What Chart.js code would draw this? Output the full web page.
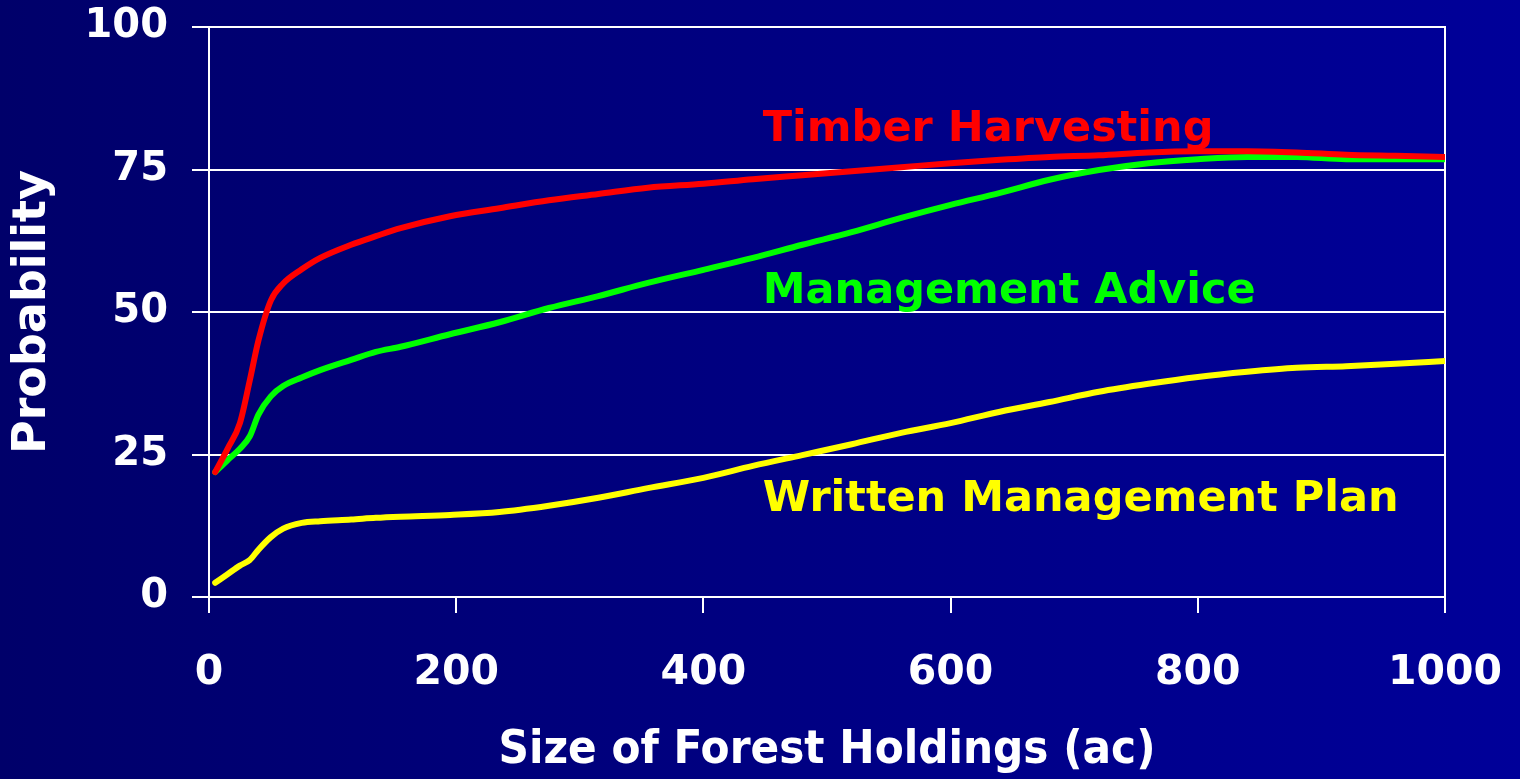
<!DOCTYPE html>
<html>
<head>
<meta charset="utf-8">
<script src="https://cdn.jsdelivr.net/npm/chart.js@4/dist/chart.umd.min.js"></script>
<style>
  html, body { margin: 0; padding: 0; background: #000080; }
  #wrap { width: 1520px; height: 779px; position: relative; }
</style>
</head>
<body>
<div id="wrap"><canvas id="chart"></canvas></div>
<script>
// sizes of forest holdings (ac) where the curves were read
var holdings = [5, 15, 25, 33, 40, 50, 60, 75, 90, 115, 135, 155, 195, 235, 275, 315, 355,
  400, 440, 480, 520, 560, 600, 640, 680, 720, 760, 800, 840, 880, 920, 960, 1000];

var timberHarvesting = [21.9, 26, 30.5, 38, 45, 52, 55, 57.5, 59.5, 61.8, 63.3, 64.7, 66.8, 68.2, 69.6, 70.7, 71.8,
  72.5, 73.3, 74, 74.7, 75.4, 76.1, 76.7, 77.2, 77.5, 78, 78.2, 78.2, 78, 77.6, 77.4, 77.2];

var managementAdvice = [21.9, 24, 26, 28.2, 32, 35.2, 37, 38.5, 39.8, 41.6, 43, 43.9, 46.1, 48.2, 50.7, 52.8, 55.1,
  57.4, 59.5, 61.8, 64, 66.5, 68.8, 70.9, 73.2, 74.9, 76.1, 76.8, 77.2, 77.2, 76.8, 76.8, 76.8];

var writtenPlan = [2.5, 4, 5.5, 6.5, 8.3, 10.5, 12, 13, 13.3, 13.6, 13.9, 14.1, 14.4, 14.9, 16, 17.4, 19.1,
  20.9, 23, 24.9, 26.8, 28.8, 30.5, 32.5, 34.2, 36, 37.4, 38.6, 39.5, 40.2, 40.5, 40.9, 41.4];

var seriesNames = ["Timber Harvesting", "Management Advice", "Written Management Plan"];
var seriesColors = ["#ff0000", "#00ff00", "#ffff00"];

function toPoints(ys) {
  var pts = [];
  for (var i = 0; i < holdings.length; i++) {
    pts.push({ x: holdings[i], y: ys[i] });
  }
  return pts;
}

// label placement in data units (x, y of left/middle)
var LABEL_POS = [[448, 81.9], [448, 53.6], [448, 17]];

var bgPlugin = {
  id: "bg",
  beforeDraw: function (chart) {
    var ctx = chart.ctx;
    var g = ctx.createLinearGradient(0, 0, chart.width, 0);
    g.addColorStop(0, "#00006a");
    g.addColorStop(1, "#000099");
    ctx.save();
    ctx.fillStyle = g;
    ctx.fillRect(0, 0, chart.width, chart.height);
    ctx.restore();
  },
};

var labelPlugin = {
  id: "seriesLabels",
  afterDatasetsDraw: function (chart) {
    var ctx = chart.ctx;
    var xs = chart.scales.x, ys = chart.scales.y;
    ctx.save();
    ctx.font = "bold 43px 'DejaVu Sans', Verdana, sans-serif";
    ctx.textBaseline = "middle";
    ctx.textAlign = "left";
    for (var i = 0; i < seriesNames.length; i++) {
      ctx.fillStyle = seriesColors[i];
      ctx.fillText(seriesNames[i], xs.getPixelForValue(LABEL_POS[i][0]), ys.getPixelForValue(LABEL_POS[i][1]));
    }
    ctx.restore();
  },
};

var datasets = [timberHarvesting, managementAdvice, writtenPlan].map(function (ys, i) {
  return {
    label: seriesNames[i],
    data: toPoints(ys),
    borderColor: seriesColors[i],
    backgroundColor: seriesColors[i],
    borderWidth: 6,
    pointRadius: 0,
    tension: 0.3,
    cubicInterpolationMode: "monotone",
    borderCapStyle: "round",
    showLine: true,
  };
});

new Chart(document.getElementById("chart"), {
  type: "scatter",
  data: { datasets: datasets },
  options: {
    responsive: true,
    maintainAspectRatio: false,
    animation: false,
    layout: { padding: { top: 27, right: 0, left: 0, bottom: 0 } },
    plugins: { legend: { display: false }, tooltip: { enabled: false } },
    scales: {
      x: {
        type: "linear",
        min: 0,
        max: 1000,
        afterFit: function (s) {
          s.height = 182;
          s.paddingLeft = 0;
          s.paddingRight = 0;
        },
        ticks: {
          stepSize: 200,
          color: "#ffffff",
          padding: 36,
          callback: function (v) { return String(v); },
          font: { family: "'DejaVu Sans', Verdana, sans-serif", weight: "bold", size: 41 },
        },
        grid: { drawOnChartArea: false, color: "#ffffff", lineWidth: 2, tickLength: 16 },
        border: { color: "#ffffff", width: 2 },
        title: {
          display: true,
          text: "Size of Forest Holdings (ac)",
          color: "#ffffff",
          padding: { top: 1, bottom: 0 },
          font: { family: "'Liberation Sans Narrow', 'DejaVu Sans Condensed', Arial, sans-serif", weight: "bold", size: 47 },
        },
      },
      y: {
        min: 0,
        max: 100,
        afterFit: function (s) {
          s.width = 209;
          s.paddingTop = 0;
          s.paddingBottom = 0;
        },
        ticks: {
          stepSize: 25,
          color: "#ffffff",
          padding: 24,
          font: { family: "'DejaVu Sans', Verdana, sans-serif", weight: "bold", size: 40 },
        },
        grid: { color: "#ffffff", lineWidth: 2, tickLength: 17 },
        border: { color: "#ffffff", width: 2 },
        title: {
          display: true,
          text: "Probability",
          color: "#ffffff",
          padding: { top: 5, bottom: 0 },
          font: { family: "'DejaVu Sans', Verdana, sans-serif", weight: "bold", size: 46 },
        },
      },
      y2: {
        position: "right",
        min: 0,
        max: 100,
        afterFit: function (s) {
          s.width = 75;
          s.paddingTop = 0;
          s.paddingBottom = 0;
        },
        ticks: { display: false },
        grid: { drawOnChartArea: false, drawTicks: false },
        border: { color: "#ffffff", width: 2 },
      },
    },
  },
  plugins: [bgPlugin, labelPlugin],
});
</script>
</body>
</html>
